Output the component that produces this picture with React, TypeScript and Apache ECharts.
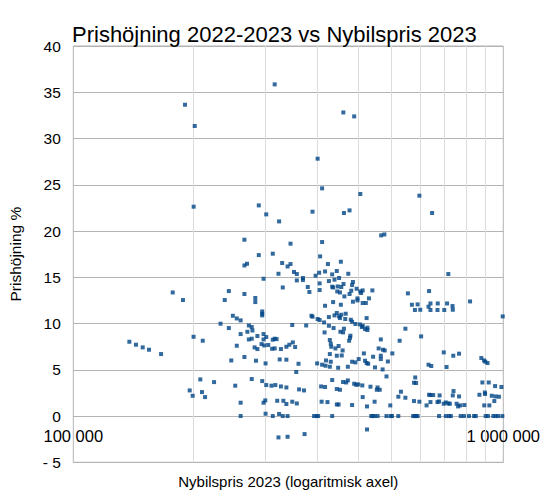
import React, { useEffect, useRef } from "react";
import * as echarts from "echarts";

// [price SEK, price increase %] pairs, grouped by price band
const budgetModels: [number, number][] = [
  [135000, 8.03], [139900, 7.71], [145000, 7.42], [150000, 7.17], [160000, 6.7],
  [170300, 13.36], [179900, 12.54], [181900, 33.65], [191600, 31.35], [190500, 22.63],
  [190400, 8.57], [200000, 8.14], [197400, 3.96], [212500, 3.67], [186500, 2.77],
  [189500, 2.19], [199200, 2.59], [202500, 2.05],
];

const compactModels: [number, number][] = [
  [294000, 35.85], [270000, 22.77], [281000, 21.8], [301000, 21.04], [250000, 19.06],
  [270000, 17.4], [291000, 17.55], [253500, 16.46], [250000, 16.28], [306000, 16.54],
  [315000, 16.17], [320000, 16.43], [300000, 15.38], [277000, 14.84], [230000, 13.51],
  [250000, 13.19], [307000, 13.9], [225000, 12.54], [265000, 12.76], [265000, 12.32],
  [275000, 11.31], [275000, 11.06], [275000, 10.88], [235000, 10.84], [240000, 10.55],
  [245000, 10.34], [220000, 9.98], [230000, 9.51], [256000, 9.79], [260000, 9.62],
  [261000, 9.25], [254000, 9.11], [245000, 8.86], [277000, 8.86], [281000, 8.54],
  [268000, 8.65], [256000, 8.28], [260000, 8.36], [277000, 8.28], [291000, 8.25],
  [294000, 8.36], [297000, 8.32], [240000, 7.6], [274000, 7.78], [278000, 7.63],
  [284000, 7.68], [264000, 7.42], [268000, 7.24], [290000, 7.27], [294000, 7.31],
  [304000, 7.24], [313000, 7.49], [318000, 7.71], [233000, 6.01], [250000, 6.38],
  [266000, 5.98], [280000, 5.69], [302000, 6.12], [313000, 6.09], [238000, 3.28],
  [260000, 4.0], [275000, 3.78], [281000, 3.35], [289000, 3.28], [295000, 3.35],
  [304000, 3.2], [313000, 3.09], [245000, 1.44], [277000, 1.44], [279600, 1.69],
  [298000, 1.65], [308000, 1.65], [313000, 1.3], [245000, 0], [280000, 0.25],
  [291000, 0], [301000, 0.22], [307000, 0], [315000, 0], [300000, -2.31], [315000, -2.24],
];

const familyModels: [number, number][] = [
  [424600, 32.82], [450000, 32.39], [370000, 27.82], [379000, 24.61], [465000, 24.0],
  [360000, 22.09], [426000, 21.95], [439000, 22.23], [320000, 18.63], [379000, 18.81],
  [375000, 17.26], [419000, 16.68], [391000, 16.43], [326000, 15.57], [331000, 15.35],
  [342000, 14.92], [342000, 14.7], [366000, 15.17], [373000, 15.49], [385000, 15.63],
  [400000, 15.31], [410000, 15.68], [415000, 14.92], [405000, 14.74], [436000, 15.38],
  [331000, 14.66], [393000, 14.59], [425000, 14.27], [447000, 14.49], [445000, 14.16],
  [374000, 14.34], [351000, 13.95], [354000, 13.41], [374000, 13.62], [400000, 13.98],
  [402000, 13.9], [412000, 14.01], [420000, 13.95], [411000, 13.47], [417000, 13.36],
  [427000, 12.93], [439000, 13.19], [443000, 13.55], [456000, 13.76], [465000, 13.47],
  [447000, 12.36], [458000, 12.72], [458000, 12.5], [402000, 12.32], [419000, 12.03],
  [385000, 11.92], [358000, 10.84], [360000, 10.74], [370000, 10.49], [374000, 10.38],
  [393000, 10.7], [405000, 10.88], [410000, 11.14], [415000, 10.77], [420000, 10.95],
  [417000, 10.59], [430000, 11.06], [429000, 10.49], [442000, 10.41], [445000, 10.19],
  [453000, 9.95], [464000, 9.9], [471000, 9.76], [383000, 10.12], [393000, 9.76],
  [403000, 9.51], [323000, 9.84], [348000, 9.79], [426000, 9.44], [418000, 9.11],
  [424000, 9.04], [384000, 9.04], [441000, 8.68], [440000, 8.46], [438000, 8.14],
  [395000, 8.22], [397000, 7.82], [324000, 7.96], [328000, 7.46], [398000, 7.49],
  [407000, 7.31], [414000, 7.57], [423000, 7.09], [395000, 6.7], [410000, 6.52],
  [421000, 6.55], [387000, 6.01], [397000, 5.87], [334000, 5.65], [369000, 5.69],
  [379000, 5.55], [386000, 5.44], [395000, 5.33], [413000, 5.22], [435000, 5.33],
  [445000, 5.87], [453000, 5.8], [461000, 6.16], [330000, 4.76], [400000, 3.89],
  [424000, 3.68], [431000, 3.63], [435000, 3.85], [450000, 3.49], [455000, 3.38],
  [460000, 3.42], [470000, 3.31], [377000, 3.2], [385000, 3.14], [410000, 2.92],
  [417000, 2.84], [335000, 2.88], [344000, 2.77], [323000, 1.55], [331000, 1.36],
  [378000, 1.55], [390000, 1.51], [410000, 1.25], [414000, 1.25], [445000, 1.19],
  [363000, 0], [368000, 0], [371000, 0], [400000, 0], [345000, -1.95],
];

const premiumModels: [number, number][] = [
  [638000, 23.82], [683000, 21.95], [520000, 19.53], [529000, 19.63],
  [471000, 13.58], [467000, 13.3], [496000, 13.58], [487000, 12.72], [471000, 12.22],
  [479000, 12.22], [600000, 13.26], [672000, 13.51], [613000, 12.03], [632000, 12.07],
  [623000, 11.46], [641000, 11.49], [670000, 11.82], [677000, 12.17], [677000, 11.46],
  [481000, 10.59], [469000, 9.62], [477000, 9.4], [483000, 9.55], [483000, 9.3],
  [592000, 9.44], [644000, 8.61], [519000, 8.28], [574000, 8.14], [513000, 7.31],
  [525000, 7.17], [530000, 7.09], [474000, 6.77], [552000, 6.77], [498000, 6.41],
  [519000, 6.52], [519000, 6.16], [477000, 5.98], [481000, 5.73], [485000, 5.65],
  [539000, 5.9], [503000, 5.26], [524000, 5.04], [670000, 5.55], [680000, 5.41],
  [535000, 4.28], [624000, 4.17], [620000, 3.6], [627000, 3.57], [491000, 3.17],
  [508000, 2.84], [516000, 2.84], [510000, 3.09], [578000, 2.63], [570000, 2.09],
  [592000, 1.98], [471000, 2.05], [502000, 1.55], [482000, 1.04], [546000, 1.15],
  [620000, 1.62], [638000, 1.55], [677000, 1.51], [663000, 1.15], [672000, 2.3],
  [677000, 2.27], [687000, 2.27], [493000, 0], [497000, 0], [502000, 0], [510000, 0],
  [535000, 0], [547000, 0], [551000, 0], [570000, 0], [617000, 0], [622000, 0],
  [627000, 0], [632000, 0], [482000, -1.45],
];

const luxuryModels: [number, number][] = [
  [745000, 15.35], [704000, 12.17], [740000, 12.17], [762000, 11.89], [703000, 11.46],
  [729000, 11.46], [763000, 11.49], [837000, 12.39], [997000, 10.77], [727000, 6.88],
  [738000, 5.3], [765000, 6.52], [789000, 6.74], [889000, 6.27], [902000, 6.01],
  [919000, 5.73], [908000, 5.87], [894000, 3.63], [925000, 3.63], [957000, 3.24],
  [990000, 3.14], [880000, 2.3], [906000, 2.55], [907000, 2.38], [940000, 2.19],
  [959000, 2.12], [977000, 2.09], [953000, 1.62], [903000, 1.15], [928000, 1.15],
  [711000, 2.23], [703000, 1.51], [709000, 1.58], [727000, 1.33], [735000, 1.47],
  [745000, 1.36], [751000, 1.33], [766000, 2.7], [763000, 2.23], [789000, 2.12],
  [779000, 1.33], [785000, 1.04], [794000, 1.15], [812000, 1.19],
  [709000, 0], [735000, 0], [748000, 0], [755000, 0], [796000, 0], [810000, 0],
  [832000, 0], [855000, 0], [863000, 0], [910000, 0], [921000, 0], [948000, 0],
  [960000, 0], [972000, 0], [995000, 0],
];

// x axis: log scale 100 000 – 1 000 000, with minor grid lines as in the original
const xMin = 100000;
const xMax = 1000000;
const minorGridValues = [190000, 280000, 370000, 460000, 550000, 640000, 730000, 820000, 910000];
// y axis ticks
const yMin = -5;
const yMax = 40;
const yStep = 5;

const FONT = "'Liberation Sans', Arial, sans-serif";

const GRID_TOP = 46;
const GRID_BOTTOM = 36.7;
const CHART_H = 499;

function formatThousands(v: number): string {
  return String(Math.round(v)).replace(/\B(?=(\d{3})+(?!\d))/g, " ");
}

export default function App() {
  const ref = useRef<HTMLDivElement | null>(null);

  useEffect(() => {
    document.body.style.margin = "0";
    if (!ref.current) return;
    const chart = echarts.init(ref.current, undefined, { renderer: "svg" });
    const points = [
      ...budgetModels,
      ...compactModels,
      ...familyModels,
      ...premiumModels,
      ...luxuryModels,
    ];
    // the category axis crosses the value axis at 0: shift it up from the bottom edge
    const plotH = CHART_H - GRID_TOP - GRID_BOTTOM;
    const zeroShift = ((0 - yMin) / (yMax - yMin)) * plotH;
    chart.setOption({
      animation: false,
      backgroundColor: "#ffffff",
      title: {
        text: "Prishöjning 2022-2023 vs Nybilspris 2023",
        left: 72,
        top: 23,
        padding: 0,
        textStyle: {
          fontFamily: FONT,
          fontSize: 22,
          fontWeight: "normal",
          color: "#000000",
        },
      },
      grid: {
        left: 73.3,
        right: 45.7,
        top: GRID_TOP,
        bottom: GRID_BOTTOM,
        containLabel: false,
        outerBoundsMode: "none",
        show: true,
        borderColor: "#b3b3b3",
        borderWidth: 1,
        backgroundColor: "transparent",
      },
      xAxis: {
        type: "log",
        logBase: 10,
        min: xMin,
        max: xMax,
        offset: -zeroShift,
        name: "Nybilspris 2023 (logaritmisk axel)",
        nameLocation: "middle",
        nameGap: 58,
        nameTextStyle: { fontFamily: FONT, fontSize: 15, color: "#000000" },
        axisLine: { show: true, onZero: false, lineStyle: { color: "#b3b3b3", width: 1 } },
        axisTick: { show: false },
        splitLine: { show: false },
        minorTick: { show: false },
        minorSplitLine: { show: false },
        axisLabel: {
          show: true,
          showMinLabel: true,
          showMaxLabel: true,
          margin: 11,
          fontFamily: FONT,
          fontSize: 16.5,
          color: "#000000",
          formatter: (v: number) => formatThousands(v),
        },
      },
      yAxis: {
        type: "value",
        min: yMin,
        max: yMax,
        interval: yStep,
        name: "Prishöjning %",
        nameLocation: "middle",
        nameGap: 50,
        nameRotate: 90,
        nameTextStyle: { fontFamily: FONT, fontSize: 15.5, color: "#000000" },
        axisLine: { show: false, onZero: false },
        axisTick: { show: false },
        splitLine: { show: true, lineStyle: { color: "#b3b3b3", width: 1 } },
        axisLabel: {
          margin: 12.5,
          fontFamily: FONT,
          fontSize: 15.5,
          color: "#000000",
          formatter: (v: number) => (v < 0 ? "- " + Math.abs(v) : String(v)),
        },
      },
      series: [
        {
          type: "scatter",
          data: points,
          symbol: "rect",
          symbolSize: 4,
          z: 3,
          itemStyle: { color: "#004586" },
          emphasis: { disabled: true },
          markLine: {
            silent: true,
            z: 1,
            symbol: ["none", "none"],
            label: { show: false },
            emphasis: { disabled: true },
            lineStyle: { color: "#dcdcdc", width: 1, type: "solid" },
            data: minorGridValues.map((v) => ({ xAxis: v })),
          },
        },
      ],
    });
    return () => {
      chart.dispose();
    };
  }, []);

  return <div ref={ref} style={{ width: 549, height: 499 }} />;
}
